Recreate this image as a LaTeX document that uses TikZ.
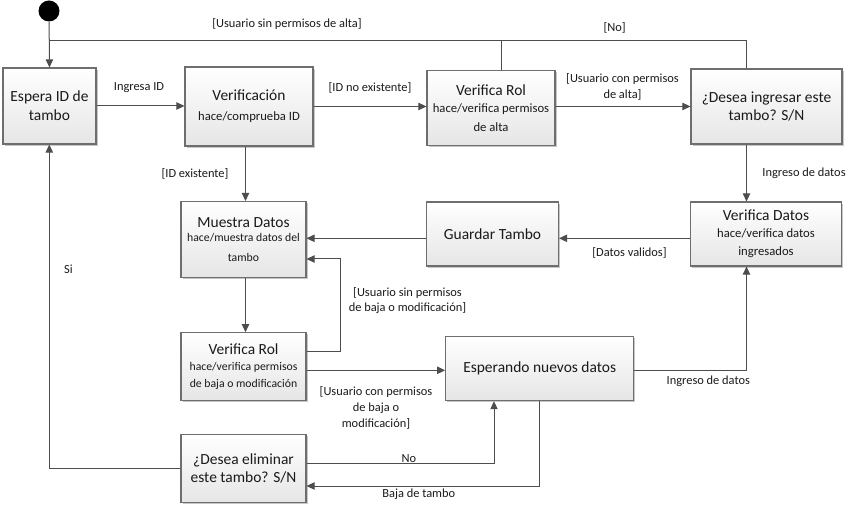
\documentclass[tikz,border=0pt]{standalone}
\usepackage{fontspec}
\setmainfont{Carlito}
\usetikzlibrary{arrows.meta,shadows}
\definecolor{lnc}{HTML}{4D4D4D}
\definecolor{bdc}{HTML}{6E6E6E}
\definecolor{txtc}{HTML}{1A1A1A}
\newcommand\Tfont{\fontsize{11.6}{14}\selectfont}
\newcommand\Sfont{\fontsize{9.5}{12}\selectfont}
\newcommand\SSfont{\fontsize{8.8}{11.5}\selectfont}
\newcommand\Lfont{\fontsize{9.3}{11.8}\selectfont}
\begin{document}
\begin{tikzpicture}[x=0.75pt,y=-0.75pt,
  state/.style={draw=bdc, line width=0.8pt, top color=white, bottom color=black!10,
    drop shadow={shadow xshift=1.3pt,shadow yshift=-1.3pt,opacity=0.22,fill=black},
    align=center, inner sep=1pt, text=txtc, font=\Tfont},
  sz/.style 2 args={minimum width=#1*0.75pt, minimum height=#2*0.75pt},
  lbl/.style={font=\Lfont, text=txtc, inner sep=0pt, align=center},
  wire/.style={draw=lnc, line width=0.75pt},
  arr/.style={wire, -{Triangle[length=6pt,width=5.5pt]}},
  startnode/.style={circle, fill=black, inner sep=0pt, minimum size=21*0.75pt}]
\useasboundingbox (0,0) rectangle (856,509);

\node[startnode] (start) at (49,11) {};
\node[state, sz={93}{76}] (espera) at (49.5,106) {Espera ID de\\tambo};
\node[state, sz={128}{79}] (verif) at (249,106.5) {Verificación\\[1pt]\Sfont hace/comprueba ID};
\node[state, sz={128}{75}] (rolA) at (491,108) {Verifica Rol\\[-1pt]\Sfont hace/verifica permisos\\\Sfont de alta};
\node[state, sz={151}{75}] (desea) at (766.5,106.5) {¿Desea ingresar este\\tambo? S/N};
\node[state, sz={125}{76}] (muestra) at (243.5,239.5) {Muestra Datos\\[-3pt]\SSfont hace/muestra datos del\\[1pt]\SSfont tambo};
\node[state, sz={132}{64}] (guardar) at (492.5,234) {Guardar Tambo};
\node[state, sz={151}{64}] (vdatos) at (766,234) {Verifica Datos\\[-1.5pt]\Sfont hace/verifica datos\\[-0.5pt]\Sfont ingresados};
\node[state, sz={125}{68}] (rolB) at (243.5,366.7) {Verifica Rol\\[-2pt]\SSfont hace/verifica permisos\\[-1pt]\SSfont de baja o modificación};
\node[state, sz={188}{64}] (esperando) at (539.7,368.7) {Esperando nuevos datos};
\node[state, sz={125}{68}] (eliminar) at (243.5,468.3) {¿Desea eliminar\\este tambo? S/N};

% connectors
\draw[arr] (start) -- (espera.north);
\draw[wire] (desea.north -| 746.5,0) |- (49,41);
\draw[wire] (rolA.north -| 501,0) -- (501,41);
\draw[arr] (espera.east) -- (espera.east -| verif.west);
\draw[arr] (verif.east) -- (verif.east -| rolA.west);
\draw[arr] (rolA.west -| rolA.east) ++(0,-1.5) -- (desea.west |- 0,106.5);
\draw[arr] (verif.south -| 245.5,0) -- (muestra.north -| 245.5,0);
\draw[arr] (desea.south -| 746.5,0) -- (vdatos.north -| 746.5,0);
\draw[arr] (vdatos.west |- 0,238.3) -- (guardar.east |- 0,238.3);
\draw[arr] (guardar.west |- 0,238.3) -- (muestra.east |- 0,238.3);
\draw[arr] (muestra.south -| 245.5,0) -- (rolB.north -| 245.5,0);
\draw[arr] (rolB.east |- 0,351.7) -| (340.7,259) -- (muestra.east |- 0,259);
\draw[arr] (rolB.east |- 0,370.3) -- (esperando.west |- 0,370.3);
\draw[arr] (esperando.east |- 0,370.3) -| (vdatos.south -| 746.5,0);
\draw[arr] (eliminar.east |- 0,463.7) -| (esperando.south -| 494,0);
\draw[arr] (esperando.south -| 539.3,0) |- (eliminar.east |- 0,486);
\draw[arr] (eliminar.west |- 0,468) -| (espera.south -| 49.3,0);

% labels
\node[lbl] (l1) at (139,88) {Ingresa ID};
\node[lbl] (l2) at (370,88) {[ID no existente]};
\node[lbl] (l3) at (287,24) {[Usuario sin permisos de alta]};
\node[lbl] (l4) at (195,174) {[ID existente]};
\node[lbl] (l5) at (614.7,27.7) {[No]};
\node[lbl] (l6) at (622.5,87) {[Usuario con permisos\\de alta]};
\node[lbl] (l7) at (804,173) {Ingreso de datos};
\node[lbl] (l8) at (629.5,252.7) {[Datos validos]};
\node[lbl] (l9) at (407.5,300.5) {[Usuario sin permisos\\de baja o modificación]};
\node[lbl] (l10) at (376,407.7) {[Usuario con permisos\\de baja o\\modificación]};
\node[lbl] (l11) at (708.3,381) {Ingreso de datos};
\node[lbl] (l12) at (409,458.3) {No};
\node[lbl] (l13) at (418.8,494) {Baja de tambo};
\node[lbl] (l14) at (68.5,269) {Si};
\end{tikzpicture}
\end{document}
